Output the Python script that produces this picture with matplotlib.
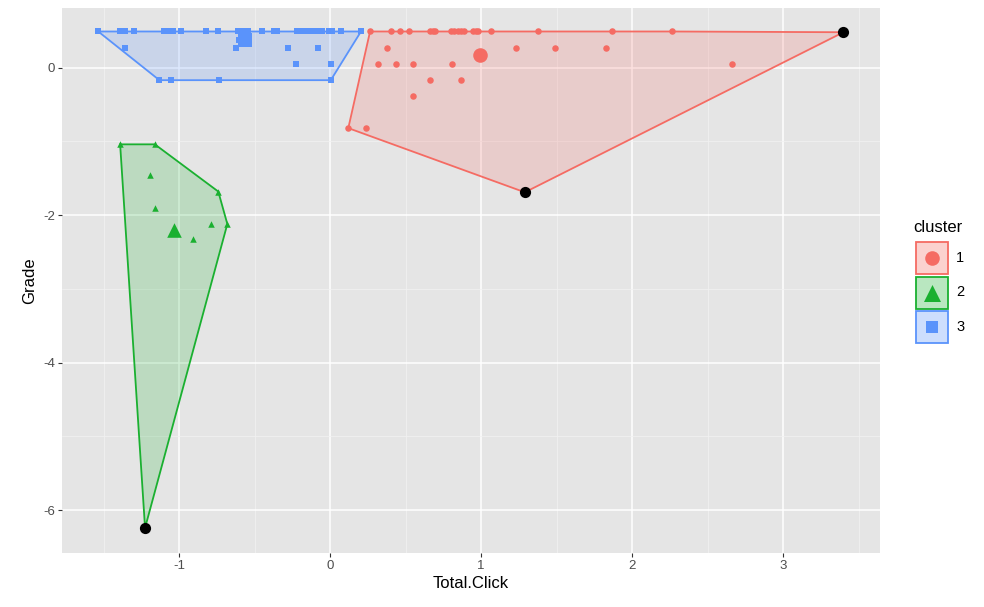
import numpy as np
import matplotlib.pyplot as plt
from matplotlib.colors import to_rgb
from matplotlib.patches import Polygon, Rectangle

plt.rcParams["font.family"] = ["Liberation Sans", "DejaVu Sans"]
plt.rcParams["axes.unicode_minus"] = False

# ─── data ─────────────────────────────────────────────────────────────────────
c1_x = [0.265, 0.404, 0.464, 0.521, 0.662, 0.684, 0.695, 0.801, 0.823, 0.845,
        0.868, 0.889, 0.949, 0.965, 0.982, 1.064, 1.379, 1.865, 2.263,
        0.38, 1.23, 1.49, 1.83,
        0.32, 0.435, 0.548, 0.806, 2.66,
        0.662, 0.866, 0.548, 0.121, 0.236]
c1_y = [0.49] * 19 + [0.27] * 4 + [0.05] * 5 + [-0.17, -0.17, -0.39, -0.82, -0.82]

c2_x = [-1.39, -1.16, -1.19, -1.16, -0.74, -0.68, -0.79, -0.905]
c2_y = [-1.04, -1.04, -1.46, -1.90, -1.68, -2.12, -2.12, -2.32]

c3_x = [-1.535, -1.39, -1.36, -1.30, -1.10, -1.07, -1.04, -0.99, -0.82, -0.74,
        -0.61, -0.59, -0.56, -0.54, -0.45, -0.37, -0.35, -0.22, -0.19, -0.15,
        -0.12, -0.09, -0.05, -0.01, 0.01, 0.07, 0.205,
        -1.36, -0.62, -0.28, -0.08, -0.225, 0.007,
        -1.13, -1.05, -0.735, 0.005,
        -0.60, -0.55, -0.57, -0.54]
c3_y = [0.49] * 27 + [0.27] * 4 + [0.05, 0.05] + [-0.17] * 4 + [0.38, 0.33, 0.45, 0.40]

# cluster centres
cent_x = [0.993, -1.03, -0.565]
cent_y = [0.17, -2.20, 0.38]

# outlying observations (drawn in black), with their cluster
out_x = [3.40, 1.29, -1.225]
out_y = [0.48, -1.69, -6.24]
out_cluster = [1, 1, 2]

cluster_labels = ["1", "2", "3"]

COLORS = ["#F56B63", "#1AB030", "#5A93FB"]
MARKERS = ["o", "^", "s"]
FILL_ALPHA = 0.2


def convex_hull(pts):
    pts = sorted(set(pts))
    if len(pts) < 3:
        return pts

    def cross(o, a, b):
        return (a[0] - o[0]) * (b[1] - o[1]) - (a[1] - o[1]) * (b[0] - o[0])

    lower, upper = [], []
    for p in pts:
        while len(lower) >= 2 and cross(lower[-2], lower[-1], p) <= 0:
            lower.pop()
        lower.append(p)
    for p in reversed(pts):
        while len(upper) >= 2 and cross(upper[-2], upper[-1], p) <= 0:
            upper.pop()
        upper.append(p)
    return lower[:-1] + upper[:-1]


fig = plt.figure(figsize=(9.84, 6.07), dpi=100)
ax = fig.add_axes([0.063, 0.089, 0.831, 0.898])
ax.set_facecolor("#E5E5E5")

clusters = [(c1_x, c1_y), (c2_x, c2_y), (c3_x, c3_y)]
for k, (xs, ys) in enumerate(clusters):
    pts = list(zip(xs, ys))
    pts += [(ox, oy) for ox, oy, oc in zip(out_x, out_y, out_cluster) if oc == k + 1]
    hull = convex_hull(pts)
    ax.add_patch(Polygon(hull, closed=True, facecolor=COLORS[k], alpha=FILL_ALPHA,
                         edgecolor="none", zorder=2))
    ax.add_patch(Polygon(hull, closed=True, facecolor="none",
                         edgecolor=COLORS[k], linewidth=1.3, zorder=3))
    ax.scatter(xs, ys, marker=MARKERS[k], s=22, color=COLORS[k],
               linewidths=0, zorder=4)
    ax.scatter([cent_x[k]], [cent_y[k]], marker=MARKERS[k], s=110,
               color=COLORS[k], linewidths=0, zorder=5)

ax.scatter(out_x, out_y, s=65, color="black", linewidths=0, zorder=6)

ax.set_xlim(-1.775, 3.64)
ax.set_ylim(-6.58, 0.81)
ax.set_xticks([-1, 0, 1, 2, 3])
ax.set_yticks([-6, -4, -2, 0])
ax.set_xticks([-1.5, -0.5, 0.5, 1.5, 2.5, 3.5], minor=True)
ax.set_yticks([-5, -3, -1], minor=True)
ax.grid(True, which="major", color="white", linewidth=1.1, zorder=0)
ax.grid(True, which="minor", color="#F2F2F2", linewidth=0.5, zorder=0)
ax.set_axisbelow(True)
for s in ax.spines.values():
    s.set_visible(False)
ax.tick_params(which="major", length=3, color="#333333", labelsize=9.5,
               labelcolor="#4D4D4D", pad=2)
ax.tick_params(which="minor", length=0)
ax.set_xlabel("Total.Click", fontsize=12, labelpad=3)
ax.set_ylabel("Grade", fontsize=12, labelpad=4)

# ─── legend, drawn by hand in a pixel-space overlay ───────────────────────────
lax = fig.add_axes([0, 0, 1, 1], facecolor="none")
lax.set_xlim(0, 984)
lax.set_ylim(607, 0)
lax.axis("off")
lax.text(913, 228, "cluster", fontsize=12, va="center", ha="left")
key_size, key_top = 32, 242
for k, lab in enumerate(cluster_labels):
    top = key_top + k * (key_size + 2.5)
    lax.add_patch(Rectangle((916, top), key_size, key_size,
                            facecolor=(*to_rgb(COLORS[k]), 0.3),
                            edgecolor=COLORS[k], linewidth=1.3))
    lax.scatter([916 + key_size / 2], [top + key_size / 2], marker=MARKERS[k],
                s=[110, 150, 80][k], color=COLORS[k], linewidths=0)
    lax.text(956, top + key_size / 2, lab, fontsize=10.5, va="center", ha="left")

fig.savefig("out.png", dpi=100)
